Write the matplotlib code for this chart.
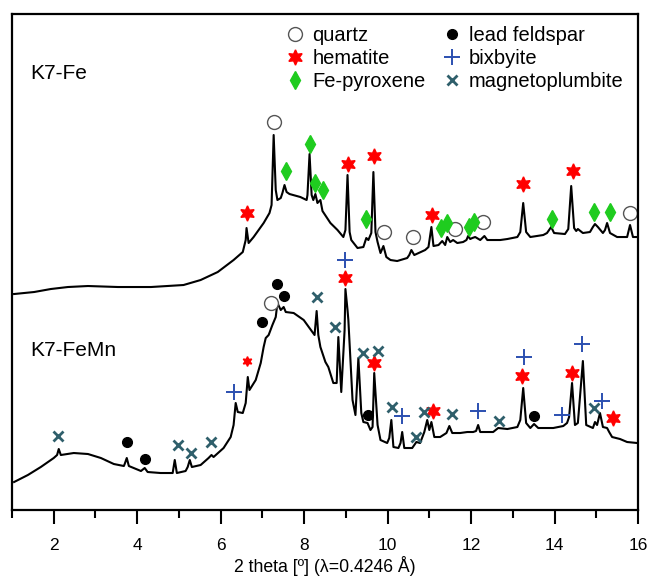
"""
synchrotron XRD patterns of K7-Fe and K7-FeMn with phase markers
"""
import matplotlib.pyplot as plt
from matplotlib.ticker import MultipleLocator

plt.rcParams["font.family"] = ["Liberation Sans", "DejaVu Sans"]

# data: 2 theta (deg) and intensity (a.u., offset per pattern)
fe_2theta = [1.05, 1.53, 1.93, 2.34, 2.82, 3.54, 4.33, 5.11, 5.52, 5.93, 6.31, 6.53,
             6.60, 6.62, 6.67, 6.79, 7.03, 7.17, 7.22, 7.27, 7.32, 7.36, 7.44, 7.48,
             7.53, 7.58, 7.65, 7.91, 8.06, 8.08, 8.13, 8.18, 8.22, 8.27, 8.32, 8.34,
             8.39, 8.44, 8.63, 8.80, 8.94, 8.99, 9.04, 9.09, 9.13, 9.28, 9.42, 9.49,
             9.54, 9.61, 9.66, 9.71, 9.76, 9.83, 9.90, 9.97, 10.07, 10.23, 10.47, 10.52,
             10.57, 10.64, 10.90, 10.98, 11.05, 11.10, 11.22, 11.31, 11.38, 11.43, 11.50,
             11.57, 11.67, 11.81, 11.89, 11.93, 11.98, 12.03, 12.10, 12.22, 12.32, 12.39,
             12.70, 12.87, 13.11, 13.18, 13.25, 13.32, 13.42, 13.73, 13.82, 13.92, 13.99,
             14.25, 14.33, 14.40, 14.47, 14.52, 14.56, 14.68, 14.85, 14.92, 14.97, 15.04,
             15.16, 15.21, 15.26, 15.33, 15.50, 15.64, 15.74, 15.81, 15.88, 15.98]
fe_int = [216, 218, 221, 223, 224, 223, 223, 225, 230, 238, 250, 258,
          270, 282, 267, 273, 287, 297, 305, 375, 320, 310, 312, 317,
          325, 318, 316, 313, 310, 315, 356, 315, 310, 316, 307, 308,
          310, 299, 287, 280, 273, 280, 335, 278, 270, 262, 263, 272,
          270, 277, 338, 278, 268, 257, 264, 253, 250, 249, 252, 255,
          260, 255, 260, 263, 283, 264, 265, 269, 265, 273, 268,
          270, 267, 268, 270, 274, 271, 272, 273, 270, 274, 270,
          270, 271, 273, 278, 307, 278, 273, 275, 277, 283, 277,
          276, 281, 324, 282, 279, 281, 277, 278, 283, 286, 283,
          277, 280, 287, 277, 273, 273, 273, 285, 273, 273]

femn_2theta = [1.05, 1.38, 1.69, 2.00, 2.08, 2.12, 2.17, 2.48, 2.82, 3.13, 3.44, 3.68,
               3.70, 3.75, 3.80, 4.09, 4.18, 4.25, 4.56, 4.85, 4.90, 4.95, 5.16, 5.21,
               5.26, 5.31, 5.52, 5.71, 5.78, 5.83, 6.07, 6.24, 6.31, 6.36, 6.41, 6.53,
               6.60, 6.65, 6.69, 6.84, 6.96, 7.03, 7.08, 7.15, 7.24, 7.32, 7.36, 7.44,
               7.51, 7.56, 7.75, 7.99, 8.20, 8.25, 8.30, 8.34, 8.39, 8.51, 8.58, 8.70,
               8.78, 8.82, 8.89, 8.97, 8.99, 9.04, 9.06, 9.16, 9.23, 9.30, 9.37, 9.42,
               9.52, 9.59, 9.64, 9.68, 9.76, 9.83, 9.99, 10.04, 10.09, 10.14, 10.26, 10.31,
               10.35, 10.40, 10.59, 10.69, 10.78, 10.88, 10.95, 11.00, 11.05, 11.12, 11.26,
               11.41, 11.48, 11.55, 11.74, 11.91, 12.05, 12.12, 12.17, 12.22, 12.53, 12.65,
               12.87, 13.11, 13.18, 13.25, 13.32, 13.42, 13.51, 13.61, 13.97, 14.21, 14.30,
               14.35, 14.42, 14.49, 14.56, 14.68, 14.76, 14.92, 14.97, 15.02, 15.09, 15.16,
               15.26, 15.31, 15.38, 15.57, 15.74, 15.98]
femn_int = [28, 35, 43, 52, 55, 61, 55, 57, 56, 52, 46, 44,
            46, 52, 44, 39, 42, 38, 37, 37, 50, 37, 39, 43,
            50, 43, 45, 52, 55, 53, 62, 73, 85, 107, 98, 97,
            107, 133, 120, 130, 147, 163, 172, 175, 185, 193, 207, 200,
            203, 198, 197, 190, 178, 175, 199, 175, 163, 148, 143, 127,
            127, 173, 118, 180, 221, 200, 190, 110, 95, 152, 97, 88,
            87, 80, 83, 137, 85, 70, 67, 72, 90, 63, 62, 67,
            78, 62, 62, 68, 67, 78, 90, 80, 88, 73, 73,
            77, 84, 77, 77, 78, 78, 79, 85, 78, 78, 82,
            81, 83, 90, 122, 87, 82, 86, 82, 82, 84, 87,
            93, 127, 85, 87, 149, 85, 82, 88, 85, 97, 83,
            82, 78, 73, 71, 68, 67]

# phase markers (2 theta, height)
quartz_x = [7.27, 9.92, 10.62, 11.62, 12.29, 15.81, 7.20]
quartz_y = [388, 278, 273, 281, 288, 297, 207]
hematite_x = [6.62, 9.04, 9.68, 11.07, 13.25, 14.44,
              8.97, 9.68, 11.10, 13.22, 14.42, 15.40]
hematite_y = [297, 346, 354, 295, 326, 339,
              232, 147, 99, 134, 137, 92]
hematite_small_x = [6.62]
hematite_small_y = [149]
pyroxene_x = [7.56, 8.15, 8.27, 8.46, 9.49, 11.29, 11.43, 11.96, 12.08, 13.94, 14.95, 15.33]
pyroxene_y = [339, 366, 327, 320, 291, 282, 287, 283, 288, 291, 298, 298]
feldspar_x = [3.75, 4.18, 7.00, 7.36, 7.51, 9.54, 13.51]
feldspar_y = [68, 51, 188, 226, 214, 95, 94]
bixbyite_x = [6.31, 8.97, 10.35, 12.17, 13.27, 14.18, 14.66, 15.14]
bixbyite_y = [118, 250, 94, 99, 153, 95, 166, 109]
magneto_x = [2.10, 4.97, 5.28, 5.78, 8.32, 8.73, 9.40, 9.78, 10.11, 10.69, 10.88,
             11.55, 12.67, 14.95]
magneto_y = [74, 65, 57, 68, 213, 183, 157, 159, 103, 73, 98, 96, 89, 102]

fig = plt.figure(figsize=(6.49, 5.77), dpi=100)
ax = fig.add_axes([0.0185, 0.1161, 0.9645, 0.8596])

ax.plot(fe_2theta, fe_int, color="black", lw=1.5)
ax.plot(femn_2theta, femn_int, color="black", lw=1.5)

green = "#1fcc1f"
teal = "#2f5f6b"
blue = "#2b4fb0"
h_q, = ax.plot(quartz_x, quartz_y, "o", ms=10, mfc="white", mec="#555555", mew=1,
               ls="none", label="quartz")
h_h, = ax.plot(hematite_x, hematite_y, marker=(6, 1, 0), ms=11, color="red",
               ls="none", label="hematite")
ax.plot(hematite_small_x, hematite_small_y, marker=(6, 1, 0), ms=7, color="red", ls="none")
h_p, = ax.plot(pyroxene_x, pyroxene_y, "d", ms=9, color=green, ls="none",
               label="Fe-pyroxene")
h_f, = ax.plot(feldspar_x, feldspar_y, "o", ms=7, color="black", ls="none",
               label="lead feldspar")
h_b, = ax.plot(bixbyite_x, bixbyite_y, "+", ms=12, mew=1.4, color=blue, ls="none",
               label="bixbyite")
h_m, = ax.plot(magneto_x, magneto_y, "x", ms=6.5, mew=2, color=teal, ls="none",
               label="magnetoplumbite")

ax.legend(handles=[h_q, h_h, h_p, h_f, h_b, h_m], ncol=2, loc="upper right",
          bbox_to_anchor=(1.0, 1.005), frameon=False, fontsize=14.5, handlelength=1.0,
          handletextpad=0.35, columnspacing=0.8, labelspacing=0.2, borderaxespad=0.3)

ax.text(1.43, 437, "K7-Fe", fontsize=15, va="center")
ax.text(1.43, 160, "K7-FeMn", fontsize=15, va="center")

ax.set_xlim(1, 16)
ax.set_ylim(0, 496)
ax.set_yticks([])
ax.xaxis.set_major_locator(MultipleLocator(2))
ax.xaxis.set_minor_locator(MultipleLocator(1))
ax.tick_params(axis="x", which="major", direction="out", length=10, width=1.5,
               labelsize=12.5, pad=10)
ax.tick_params(axis="x", which="minor", direction="out", length=6, width=1.5)
for s in ax.spines.values():
    s.set_linewidth(1.6)
ax.set_xlabel("2 theta [º] (λ=0.4246 Å)", fontsize=12.7, labelpad=2)

plt.savefig("out.png", dpi=100)
